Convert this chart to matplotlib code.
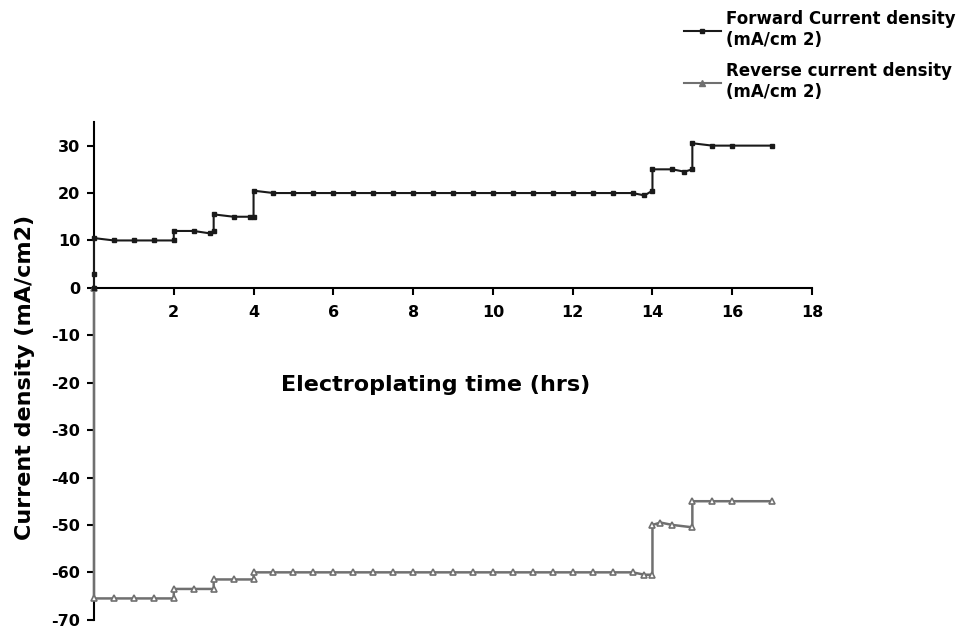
import numpy as np
import matplotlib.pyplot as plt
from matplotlib.lines import Line2D

plt.rcParams['axes.unicode_minus'] = False

# forward current density (mA/cm2) vs electroplating time (hrs)
fwd_time = [0, 0, 0, 0.5, 1.0, 1.5, 2.0, 2.0, 2.5, 2.9, 3.0, 3.0, 3.5, 3.9, 4.0, 4.0,
            4.5, 5.0, 5.5, 6.0, 6.5, 7.0, 7.5, 8.0, 8.5, 9.0, 9.5, 10.0, 10.5, 11.0,
            11.5, 12.0, 12.5, 13.0, 13.5, 13.8, 14.0, 14.0, 14.5, 14.8, 15.0, 15.0,
            15.5, 16.0, 17.0]
fwd_value = [0, 3, 10.5, 10, 10, 10, 10, 12, 12, 11.5, 12, 15.5, 15, 15, 15, 20.5,
             20, 20, 20, 20, 20, 20, 20, 20, 20, 20, 20, 20, 20, 20,
             20, 20, 20, 20, 20, 19.5, 20.5, 25, 25, 24.5, 25, 30.5,
             30, 30, 30]

# reverse current density
rev_time = [0, 0, 0.5, 1.0, 1.5, 2.0, 2.0, 2.5, 3.0, 3.0, 3.5, 4.0, 4.0,
            4.5, 5.0, 5.5, 6.0, 6.5, 7.0, 7.5, 8.0, 8.5, 9.0, 9.5, 10.0, 10.5, 11.0,
            11.5, 12.0, 12.5, 13.0, 13.5, 13.8, 14.0, 14.0, 14.2, 14.5, 15.0, 15.0,
            15.5, 16.0, 17.0]
rev_value = [0, -65.5, -65.5, -65.5, -65.5, -65.5, -63.5, -63.5, -63.5, -61.5, -61.5, -61.5, -60,
             -60, -60, -60, -60, -60, -60, -60, -60, -60, -60, -60, -60, -60, -60,
             -60, -60, -60, -60, -60, -60.5, -60.5, -50, -49.5, -50, -50.5, -45,
             -45, -45, -45]

x_ticks = [2, 4, 6, 8, 10, 12, 14, 16, 18]
y_ticks = [30, 20, 10, 0, -10, -20, -30, -40, -50, -60, -70]

fwd_color = '#1a1a1a'
rev_color = '#707070'

fig = plt.figure(figsize=(9.74, 6.35), dpi=100)
ax = fig.add_axes([0.0965, 0.024, 0.7372, 0.784])

ax.plot(fwd_time, fwd_value, '-', color=fwd_color, linewidth=1.5,
        marker='s', markersize=3, markerfacecolor=fwd_color, markeredgecolor=fwd_color,
        zorder=4, clip_on=False)
ax.plot(rev_time, rev_value, '-', color=rev_color, linewidth=1.8,
        marker='^', markersize=5, markerfacecolor='white', markeredgecolor=rev_color,
        markeredgewidth=1.2, zorder=3, clip_on=False)

ax.set_xlim(0, 18)
ax.set_ylim(-70, 35)
ax.set_xticks(x_ticks)
ax.set_yticks(y_ticks)

ax.spines['top'].set_visible(False)
ax.spines['right'].set_visible(False)
ax.spines['bottom'].set_position(('data', 0))
ax.spines['left'].set_linewidth(1.5)
ax.spines['bottom'].set_linewidth(1.5)
ax.tick_params(axis='both', direction='out', length=5, width=1.5, labelsize=11.5)
for lab in ax.get_xticklabels() + ax.get_yticklabels():
    lab.set_fontweight('bold')
ax.tick_params(axis='x', pad=7)
ax.tick_params(axis='y', pad=5)

fig.text(0.447, 0.394, 'Electroplating time (hrs)', fontsize=16, fontweight='bold',
         ha='center', va='center')
fig.text(0.026, 0.406, 'Current density (mA/cm2)', fontsize=16, fontweight='bold',
         rotation=90, ha='center', va='center')

handles = [
    Line2D([], [], color=fwd_color, linewidth=1.5, marker='s', markersize=3),
    Line2D([], [], color=rev_color, linewidth=1.5, marker='^', markersize=4),
]
fig.legend(handles, ['Forward Current density\n(mA/cm 2)', 'Reverse current density\n(mA/cm 2)'],
           loc='upper left', bbox_to_anchor=(0.692, 1.0), frameon=False,
           prop={'size': 12, 'weight': 'bold'}, handlelength=2.2, handletextpad=0.3,
           labelspacing=0.8, borderaxespad=0.2)

fig.savefig('out.png', dpi=100)
